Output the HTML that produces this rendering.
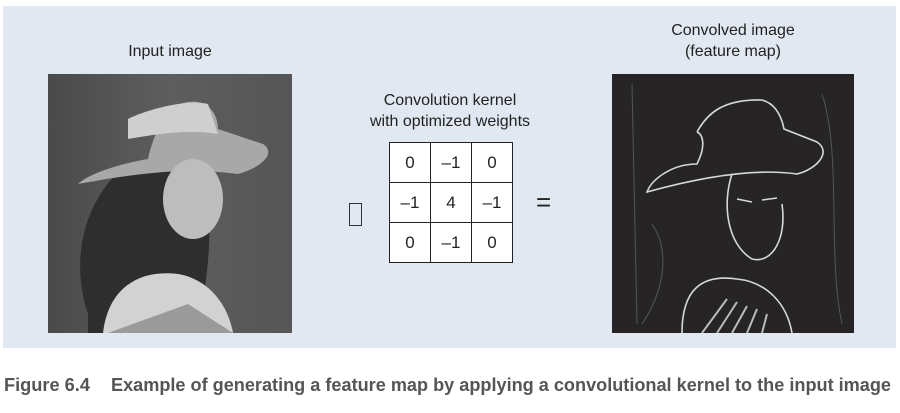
<!DOCTYPE html>
<html><head><meta charset="utf-8"><style>
html,body{margin:0;padding:0;background:#fff;}
body{width:900px;height:413px;position:relative;overflow:hidden;font-family:"Liberation Sans",sans-serif;}
.panel{position:absolute;left:3px;top:6px;width:893px;height:342px;background:#e1e8f1;}
.lbl{position:absolute;font-size:16px;color:#222;text-align:center;line-height:21px;}
table{position:absolute;left:389px;top:142px;border-collapse:collapse;background:#fff;}
td{width:40px;height:39px;border:1.5px solid #222;text-align:center;font-size:17px;color:#222;padding:0;}
</style></head><body>
<div class="panel"></div>
<div class="lbl" style="left:70px;top:41px;width:200px;">Input image</div>
<div class="lbl" style="left:330px;top:90px;width:240px;">Convolution kernel<br>with optimized weights</div>
<div class="lbl" style="left:633px;top:20px;width:200px;">Convolved image<br>(feature map)</div>
<div style="position:absolute;left:349px;top:203px;width:11px;height:21px;border:1.5px solid #333;"></div>
<div style="position:absolute;left:536px;top:187px;font-size:26px;color:#222;">=</div>
<table>
<tr><td>0</td><td>–1</td><td>0</td></tr>
<tr><td>–1</td><td>4</td><td>–1</td></tr>
<tr><td>0</td><td>–1</td><td>0</td></tr>
</table>
<svg style="position:absolute;left:48px;top:74px" width="244" height="259" viewBox="0 0 244 259">
<defs><linearGradient id="bg" x1="0" x2="1"><stop offset="0" stop-color="#4a4a4a"/><stop offset="0.5" stop-color="#5e5e5e"/><stop offset="1" stop-color="#555"/></linearGradient></defs>
<rect width="244" height="259" fill="url(#bg)"/>
<path d="M40,240 C20,180 40,120 80,90 L150,90 C170,130 160,200 150,259 L40,259Z" fill="#2e2e2e"/>
<path d="M100,85 C105,60 120,30 140,28 C160,25 170,40 170,55 L215,70 C230,80 210,95 190,100 C150,95 110,95 30,110 C40,100 70,90 100,85Z" fill="#a8a8a8"/>
<path d="M80,45 C100,35 140,25 160,30 L170,60 C140,55 110,60 80,65Z" fill="#cfcfcf"/>
<ellipse cx="145" cy="125" rx="30" ry="40" fill="#bdbdbd"/>
<path d="M55,259 C60,215 90,195 130,200 C160,205 180,230 185,259Z" fill="#d2d2d2"/>
<path d="M60,259 L140,230 L185,259Z" fill="#9a9a9a"/>
</svg>
<svg style="position:absolute;left:612px;top:74px" width="242" height="259" viewBox="0 0 242 259">
<rect width="242" height="259" fill="#262424"/>
<g fill="none" stroke="#d8d8d8" stroke-width="1.6">
<path d="M85,58 C95,40 110,25 150,26 C165,30 170,45 172,55 L205,68 C220,78 205,95 185,100 C150,95 100,100 35,118 C40,105 60,90 85,90 C95,70 90,60 85,58"/>
<path d="M120,100 C110,130 115,170 140,185 C160,190 175,165 170,130"/>
<path d="M125,125 L140,128 M150,126 L165,124"/>
<path d="M70,259 C70,215 90,200 125,205 C155,208 175,230 180,259"/>
</g>
<g stroke="#bbb" stroke-width="2"><path d="M90,259 L115,225 M105,259 L125,228 M120,259 L135,232 M135,259 L145,235 M150,259 L155,240"/></g>
<g stroke="#555" stroke-width="1" fill="none"><path d="M20,10 L25,250 M210,20 C230,80 215,180 230,250 M40,150 C60,180 50,220 30,250"/></g>
</svg>
<svg style="position:absolute;left:0;top:365px" width="900" height="40">
<text x="4" y="26" textLength="86" lengthAdjust="spacingAndGlyphs" font-family="Liberation Sans" font-weight="bold" font-size="18" fill="#555">Figure 6.4</text>
<text x="111" y="26" textLength="780" lengthAdjust="spacingAndGlyphs" font-family="Liberation Sans" font-weight="bold" font-size="18" fill="#555">Example of generating a feature map by applying a convolutional kernel to the input image</text>
</svg>
</body></html>
